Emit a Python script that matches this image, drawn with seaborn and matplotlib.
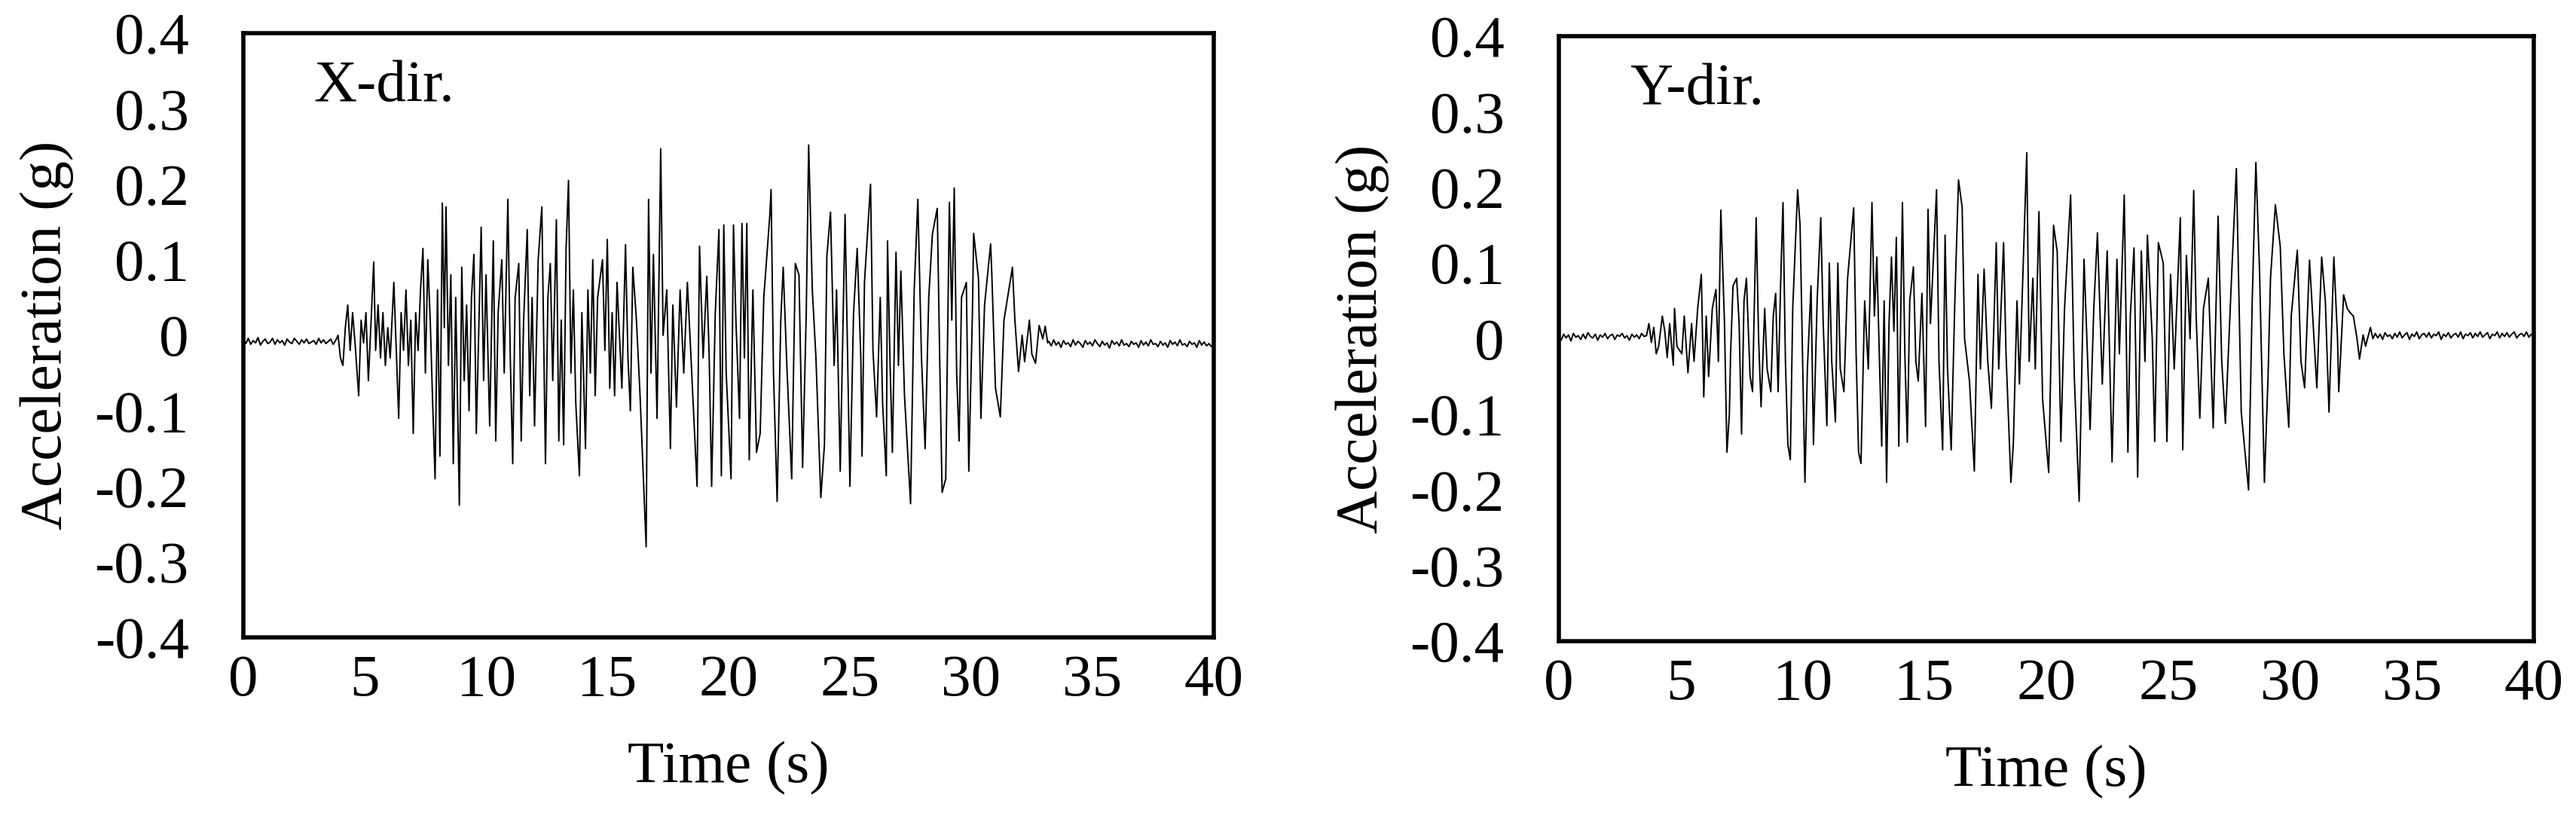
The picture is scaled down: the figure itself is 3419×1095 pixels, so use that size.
import numpy as np
import pandas as pd
import matplotlib
matplotlib.use("Agg")
import matplotlib.pyplot as plt
import seaborn as sns

sns.set_theme(style="white")
plt.rcParams['font.family'] = ['Liberation Serif', 'DejaVu Serif']
plt.rcParams['axes.unicode_minus'] = False

# ---------------- data ----------------
panel_labels = ["X-dir.", "Y-dir."]
y_ticks = [-0.4, -0.3, -0.2, -0.1, 0.0, 0.1, 0.2, 0.3, 0.4]
y_tick_labels = ["-0.4", "-0.3", "-0.2", "-0.1", "0", "0.1", "0.2", "0.3", "0.4"]
x_ticks = [0, 5, 10, 15, 20, 25, 30, 35, 40]

# X direction: pre-event noise (0..3.8 s, 0.1 s step)
x_pre = [-0.006,-0.011,-0.004,-0.012,-0.007,-0.010,-0.003,-0.013,-0.008,-0.005,
         -0.011,-0.009,-0.004,-0.012,-0.006,-0.010,-0.007,-0.013,-0.005,-0.009,
         -0.011,-0.004,-0.008,-0.012,-0.006,-0.010,-0.005,-0.011,-0.009,-0.007,
         -0.012,-0.004,-0.010,-0.006,-0.011,-0.008,-0.005,-0.012,-0.007]
# X direction: strong motion (time, acceleration)
x_strong_t = [3.9,4.0,4.1,4.2,4.3,4.4,4.5,4.6,4.75,4.85,4.95,5.05,5.15,5.25,5.37,5.45,5.55,5.65,5.75,5.85,
 5.95,6.05,6.2,6.3,6.4,6.5,6.6,6.7,6.8,6.9,7.0,7.1,7.2,7.3,7.4,7.5,7.6,7.7,7.8,7.9,
 8.0,8.1,8.2,8.28,8.35,8.45,8.55,8.65,8.75,8.9,9.0,9.1,9.2,9.3,9.4,9.5,9.6,9.8,9.9,10.0,
 10.15,10.3,10.4,10.5,10.65,10.75,10.9,11.0,11.1,11.2,11.35,11.45,11.55,11.7,11.8,11.9,12.0,12.15,12.3,12.45,
 12.55,12.65,12.75,12.9,13.0,13.1,13.2,13.3,13.4,13.5,13.6,13.7,13.85,13.95,14.1,14.2,14.3,14.4,14.5,14.6,
 14.8,14.9,15.0,15.1,15.2,15.3,15.4,15.6,15.75,15.85,15.95,16.05,16.2,16.35,16.6,16.7,16.8,16.9,17.05,17.2,
 17.3,17.45,17.6,17.7,17.85,18.0,18.15,18.3,18.45,18.7,18.8,18.95,19.1,19.2,19.3,19.45,19.6,19.7,19.8,19.9,
 20.1,20.2,20.3,20.45,20.55,20.65,20.75,20.85,21.0,21.15,21.3,21.45,21.7,21.75,21.85,22.0,22.15,22.25,22.4,22.6,
 22.75,22.9,23.05,23.2,23.3,23.45,23.6,23.8,23.95,24.05,24.2,24.35,24.45,24.6,24.8,25.0,25.15,25.3,25.45,25.5,
 25.6,25.85,25.95,26.1,26.25,26.35,26.5,26.55,26.65,26.75,26.9,27.0,27.1,27.25,27.5,27.65,27.8,27.95,28.1,28.25,
 28.4,28.6,28.7,28.8,28.95,29.1,29.2,29.3,29.4,29.5,29.6,29.8,29.9,30.05,30.1,30.3,30.4,30.55,30.8,30.85,
 31.0,31.2,31.35,31.5,31.7,31.8,31.95,32.1,32.2,32.4,32.5,32.65,32.8,32.95,33.05,33.15]
x_strong_a = [0.0,-0.03,-0.04,0.01,0.04,-0.02,0.03,-0.01,-0.08,0.02,-0.01,0.03,-0.06,0.01,0.097,-0.02,0.04,-0.03,0.03,-0.04,
 0.01,-0.03,0.07,-0.02,-0.11,0.03,-0.02,0.06,-0.04,0.02,-0.13,0.03,-0.02,0.06,0.115,-0.05,0.10,0.02,-0.09,-0.19,
 0.06,-0.16,0.175,0.01,0.17,-0.04,0.08,-0.17,0.05,-0.225,0.09,-0.06,0.04,-0.10,0.05,0.107,-0.13,0.143,-0.06,0.08,
 -0.12,0.125,-0.14,0.03,0.10,-0.05,0.18,-0.03,-0.17,0.05,0.095,-0.14,0.02,0.14,-0.08,0.05,-0.12,0.10,0.17,-0.17,
 0.05,0.095,-0.06,0.153,-0.14,0.02,-0.145,0.115,0.205,-0.05,0.06,-0.09,-0.186,0.03,-0.15,0.06,-0.05,0.10,-0.08,0.05,
 0.10,-0.02,0.127,-0.07,0.03,-0.08,0.07,-0.07,0.12,-0.03,-0.10,0.09,0.02,-0.08,-0.28,0.18,-0.05,0.107,-0.11,0.247,
 0.0,0.06,-0.15,0.04,-0.095,0.06,-0.05,0.07,-0.03,-0.20,0.118,-0.03,0.078,-0.03,-0.20,0.03,0.14,-0.186,0.146,-0.05,
 -0.19,0.146,0.02,-0.11,0.148,-0.03,0.148,-0.165,0.06,-0.155,-0.13,0.05,0.16,0.193,-0.05,-0.22,0.02,0.09,-0.04,-0.19,
 0.095,0.08,-0.175,0.03,0.252,0.06,-0.03,-0.215,-0.145,0.105,0.163,-0.04,0.06,-0.18,0.16,-0.20,0.03,0.115,-0.03,-0.16,
 0.07,0.20,-0.02,-0.108,0.05,-0.092,-0.186,0.125,-0.03,-0.155,0.11,-0.04,0.085,-0.08,-0.223,0.06,0.18,-0.03,-0.15,0.05,
 0.134,0.168,-0.03,-0.208,-0.19,0.176,0.02,0.195,-0.05,-0.14,0.05,0.07,-0.18,0.03,0.135,0.075,-0.11,0.04,0.121,0.08,
 -0.07,-0.108,0.02,0.05,0.09,0.02,-0.048,0.0,-0.035,0.02,-0.025,-0.037,0.013,-0.005,0.012,-0.01]
# X direction: post-event noise (33.2..40 s, 0.1 s step)
x_post = [-0.008,-0.014,-0.006,-0.013,-0.009,-0.016,-0.007,-0.012,-0.010,-0.015,
          -0.006,-0.013,-0.008,-0.011,-0.016,-0.007,-0.012,-0.009,-0.014,-0.006,
          -0.011,-0.015,-0.008,-0.013,-0.010,-0.017,-0.007,-0.012,-0.009,-0.014,
          -0.006,-0.013,-0.011,-0.015,-0.008,-0.012,-0.010,-0.016,-0.007,-0.013,
          -0.009,-0.014,-0.006,-0.012,-0.011,-0.015,-0.008,-0.013,-0.010,-0.016,
          -0.007,-0.012,-0.009,-0.014,-0.006,-0.013,-0.011,-0.015,-0.008,-0.012,
          -0.010,-0.016,-0.007,-0.013,-0.009,-0.014,-0.011,-0.015,-0.010]

# Y direction: pre-event noise (0..3.6 s, 0.1 s step)
y_pre = [0.004,-0.002,0.006,0.001,0.005,-0.003,0.007,0.002,0.004,-0.001,
         0.006,0.000,0.008,0.003,0.001,0.006,-0.002,0.005,0.002,0.007,
         0.000,0.004,0.006,-0.001,0.005,0.003,0.007,0.001,0.004,-0.002,
         0.006,0.002,0.005,0.000,0.007,0.003,0.004]
y_strong_t = [3.7,3.8,3.9,4.0,4.1,4.25,4.35,4.45,4.55,4.7,4.75,4.85,5.05,5.15,5.3,5.45,5.55,5.7,5.85,5.95,
 6.05,6.15,6.3,6.45,6.55,6.65,6.8,6.9,7.0,7.05,7.15,7.3,7.4,7.5,7.6,7.7,7.85,7.95,8.1,8.2,
 8.3,8.45,8.55,8.7,8.8,8.9,9.0,9.1,9.2,9.3,9.4,9.5,9.6,9.8,9.9,10.0,10.1,10.2,10.35,10.45,
 10.6,10.75,10.85,11.0,11.1,11.2,11.35,11.45,11.55,11.7,11.85,12.1,12.2,12.3,12.4,12.55,12.7,12.85,12.95,13.05,
 13.15,13.25,13.35,13.45,13.55,13.65,13.75,13.85,13.95,14.1,14.2,14.3,14.4,14.55,14.65,14.75,14.9,15.05,15.15,15.25,
 15.5,15.6,15.75,15.85,15.95,16.1,16.25,16.4,16.55,16.65,16.85,17.05,17.2,17.3,17.45,17.6,17.75,17.95,18.05,18.25,
 18.35,18.55,18.65,18.8,18.9,19.2,19.3,19.45,19.55,19.7,19.85,20.1,20.3,20.45,20.6,20.75,21.0,21.15,21.35,21.55,
 21.7,21.8,21.95,22.1,22.3,22.5,22.7,22.9,23.0,23.2,23.35,23.45,23.6,23.75,23.9,24.05,24.15,24.35,24.45,24.6,
 24.8,24.95,25.1,25.25,25.5,25.6,25.75,25.9,26.05,26.15,26.3,26.45,26.65,26.85,27.05,27.2,27.35,27.6,27.8,28.0,
 28.3,28.45,28.6,28.75,28.95,29.1,29.2,29.4,29.6,29.75,29.95,30.05,30.3,30.45,30.6,30.8,30.95,31.1,31.3,31.45,
 31.6,31.8,31.95,32.0,32.2,32.35,32.45,32.6,32.75,32.85,33.0,33.1,33.3,33.4]
y_strong_a = [0.02,-0.005,0.015,-0.02,-0.01,0.03,0.01,-0.025,0.02,-0.035,0.04,-0.01,-0.02,0.03,-0.045,0.02,-0.03,0.04,0.085,-0.077,
 0.03,-0.05,0.04,0.065,-0.03,0.17,0.02,-0.15,-0.10,-0.02,0.07,0.08,0.02,-0.126,0.05,0.08,-0.05,-0.07,0.16,0.0,
 -0.09,0.04,-0.04,-0.07,0.03,0.06,-0.07,0.07,0.18,-0.03,-0.14,-0.16,0.04,0.197,0.15,-0.02,-0.19,-0.04,0.07,-0.14,
 0.05,0.16,0.02,-0.115,0.10,-0.03,-0.11,0.10,-0.04,-0.07,0.08,0.173,-0.02,-0.15,-0.165,0.05,-0.04,0.18,0.03,0.108,
 -0.02,-0.142,0.05,-0.19,0.02,0.108,0.01,0.134,-0.142,0.18,-0.02,-0.137,0.05,0.095,-0.03,-0.056,0.06,-0.116,0.171,0.02,
 0.197,-0.03,-0.147,0.137,-0.04,-0.147,0.05,0.21,0.174,0.0,-0.056,-0.175,0.085,-0.04,0.092,-0.03,-0.092,0.127,-0.04,0.127,
 -0.02,-0.19,-0.139,0.05,-0.06,0.246,-0.03,0.08,-0.04,0.168,-0.08,-0.177,0.15,0.115,-0.136,0.04,0.19,-0.05,-0.215,0.105,
 -0.03,-0.12,0.04,0.14,-0.06,0.116,-0.163,0.105,-0.02,0.19,-0.15,0.03,0.12,-0.183,0.116,-0.03,0.137,0.0,-0.136,0.127,
 0.10,-0.136,0.085,-0.04,0.16,-0.147,0.11,0.0,0.196,0.03,-0.105,0.04,0.08,-0.118,0.162,-0.03,-0.112,0.08,0.225,-0.097,
 -0.20,0.05,0.233,0.09,-0.19,-0.05,0.08,0.177,0.122,-0.02,-0.117,0.03,0.117,-0.03,-0.065,0.104,0.02,-0.065,0.108,0.05,
 -0.097,0.108,0.0,-0.07,0.058,0.04,0.035,0.03,0.0,-0.027,0.005,-0.01,0.015,0.0]
# Y direction: post-event noise (33.5..40 s, 0.1 s step)
y_post = [0.007,0.001,0.006,-0.001,0.008,0.003,0.005,0.000,0.007,0.002,
          0.009,0.001,0.005,0.008,-0.001,0.006,0.003,0.009,0.000,0.005,
          0.007,0.002,0.008,0.001,0.006,0.004,0.009,-0.001,0.006,0.003,
          0.008,0.001,0.005,0.007,0.002,0.009,0.000,0.006,0.004,0.008,
          0.001,0.007,0.003,0.009,0.002,0.005,0.008,0.000,0.006,0.004,
          0.009,0.001,0.007,0.003,0.008,0.002,0.006,0.009,0.001,0.005,
          0.007,0.003,0.009,0.002,0.006,0.004]

def build(pre, t_strong, a_strong, post, post_start):
    t = list(np.round(np.arange(len(pre)) * 0.1, 3)) + t_strong + \
        list(np.round(post_start + np.arange(len(post)) * 0.1, 3))
    a = pre + a_strong + post
    return pd.DataFrame({"t": t, "a": a})

dfx = build(x_pre, x_strong_t, x_strong_a, x_post, 33.2)
dfy = build(y_pre, y_strong_t, y_strong_a, y_post, 33.5)

# ---------------- figure ----------------
fig = plt.figure(figsize=(34.19, 10.95), dpi=100)
axes = [fig.add_axes([0.0945, 0.2274, 0.3767, 0.7324]),
        fig.add_axes([0.6051, 0.2228, 0.3785, 0.7333])]

FS = 57
for ax, df, lab in zip(axes, [dfx, dfy], panel_labels):
    sns.lineplot(data=df, x="t", y="a", ax=ax, color="black", lw=1.4,
                 estimator=None, sort=False)
    ax.set_xlim(0, 40)
    ax.set_ylim(-0.4, 0.4)
    ax.set_xticks(x_ticks)
    ax.set_xticklabels([str(v) for v in x_ticks])
    ax.set_yticks(y_ticks)
    ax.set_yticklabels(y_tick_labels)
    ax.tick_params(axis="y", direction="inout", length=36, width=4,
                   labelsize=FS, pad=34, colors="black")
    ax.tick_params(axis="x", direction="in", length=18, width=4,
                   labelsize=FS, pad=16, colors="black")
    for s in ax.spines.values():
        s.set_linewidth(4)
        s.set_color("black")
    ax.set_xlabel("Time (s)", fontsize=FS, labelpad=32, color="black")
    ax.set_ylabel("Acceleration (g)", fontsize=FS, labelpad=20, color="black")
    ax.text(2.9, 0.31, lab, fontsize=FS, color="black", va="baseline")

fig.savefig("out.png", dpi=100, facecolor="white")
